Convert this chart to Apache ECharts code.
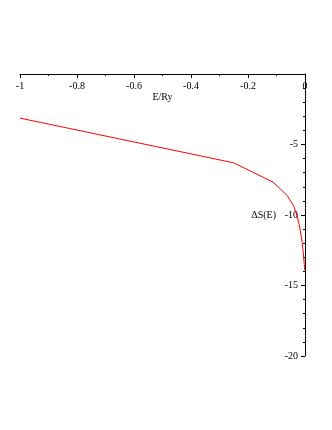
<!DOCTYPE html>
<html>
<head>
<meta charset="utf-8">
<script src="https://cdn.jsdelivr.net/npm/echarts@6/dist/echarts.min.js"></script>
<style>
  html, body { margin: 0; padding: 0; background: #fff; }
  #chart { width: 332px; height: 430px; }
</style>
</head>
<body>
<div id="chart"></div>
<script>
// energies E/Ry and entropy shift
const energies = [-1, -0.25, -0.1111, -0.0625, -0.04, -0.0278, -0.0204, -0.0156, -0.0123, -0.01, -0.0069, -0.0044, -0.0025, -0.0011]
const deltaS = [-3.13, -6.3, -7.68, -8.62, -9.35, -10.05, -10.7, -11.2, -11.6, -11.95, -12.5, -13.0, -13.5, -13.9]

const font = 'Liberation Serif'
const axisColor = '#000'

const myChart = echarts.init(document.getElementById('chart'))
const options = {
  animation: false,
  grid: {
    left: 20,
    right: 27,
    top: 74,
    bottom: 74,
    outerBoundsMode: 'none'
  },
  xAxis: {
    type: 'value',
    position: 'top',
    min: -1,
    max: 0,
    interval: 0.2,
    name: 'E/Ry',
    nameLocation: 'middle',
    nameGap: -23,
    nameMoveOverlap: false,
    nameTextStyle: { color: '#000', fontFamily: font, fontSize: 10, verticalAlign: 'middle' },
    axisLine: { lineStyle: { color: axisColor, width: 1 } },
    axisTick: { inside: true, length: 4, lineStyle: { color: axisColor } },
    minorTick: { show: true, splitNumber: 2, length: 2, lineStyle: { color: axisColor } },
    axisLabel: {
      inside: true,
      margin: 7,
      color: '#000',
      fontFamily: font,
      fontSize: 10,
      formatter: (v) => String(Math.round(v * 10) / 10)
    },
    splitLine: { show: false }
  },
  yAxis: {
    type: 'value',
    position: 'right',
    min: -20,
    max: 0,
    interval: 5,
    name: 'ΔS(E)',
    nameLocation: 'middle',
    nameRotate: 0,
    nameGap: -29,
    nameMoveOverlap: false,
    nameTextStyle: { color: '#000', fontFamily: font, fontSize: 10, align: 'right', verticalAlign: 'middle' },
    axisLine: { onZero: false, lineStyle: { color: axisColor, width: 1 } },
    axisTick: { inside: true, length: 4, lineStyle: { color: axisColor } },
    minorTick: { show: true, splitNumber: 5, length: 2, lineStyle: { color: axisColor } },
    axisLabel: {
      inside: true,
      margin: 7,
      showMaxLabel: false,
      color: '#000',
      fontFamily: font,
      fontSize: 10
    },
    splitLine: { show: false }
  },
  series: [
    {
      type: 'line',
      data: energies.map((e, i) => [e, deltaS[i]]),
      showSymbol: false,
      lineStyle: { color: '#ff0000', width: 1 }
    }
  ]
}
myChart.setOption(options)
</script>
</body>
</html>
